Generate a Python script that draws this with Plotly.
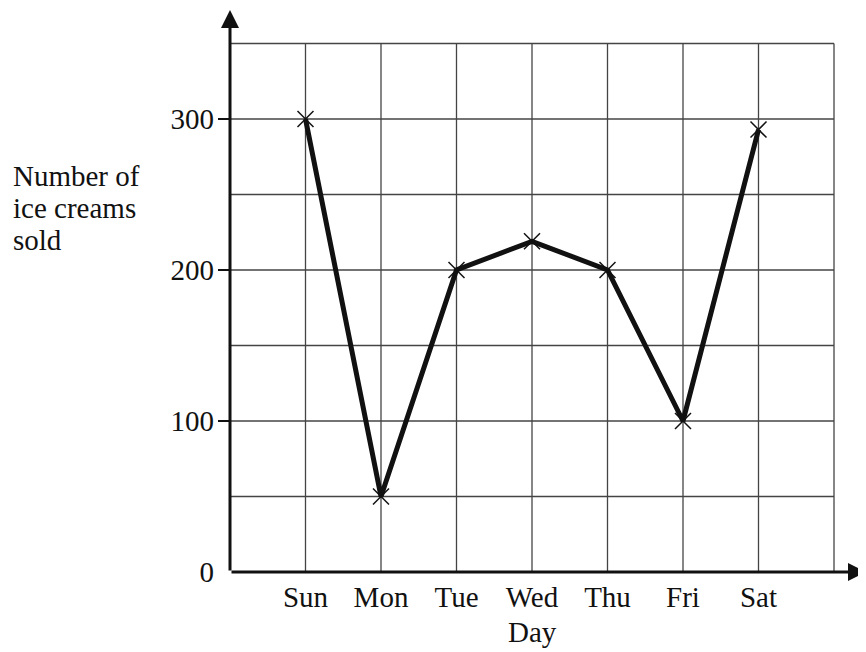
import plotly.graph_objects as go

days = ["Sun", "Mon", "Tue", "Wed", "Thu", "Fri", "Sat"]
day_pos = [1, 2, 3, 4, 5, 6, 7]
sold = [300, 50, 200, 219, 200, 100, 293]
y_ticks = [0, 100, 200, 300]
grid_y = [0, 50, 100, 150, 200, 250, 300, 350]
grid_x = [1, 2, 3, 4, 5, 6, 7, 8]
y_title_lines = ["Number of", "ice creams", "sold"]

FONT = "Liberation Serif, Times New Roman, serif"
FS = 29
# page body has an 8px margin: the plot area spans 230..866 x 10..572 on screen
L, T = 230, 10
W, H = 636, 562
XMAX = W / 75.5
YMAX = H / 1.51

fig = go.Figure()
fig.add_trace(go.Scatter(
    x=day_pos, y=sold, mode="lines+markers",
    line=dict(color="#111", width=5),
    marker=dict(symbol="x-thin-open", size=16, line=dict(color="#111", width=1.5)),
    showlegend=False, cliponaxis=False,
))

shapes = []
for gy in grid_y[1:]:
    shapes.append(dict(type="line", xref="x", yref="y", x0=0, x1=8, y0=gy, y1=gy,
                       line=dict(color="#444", width=1.3), layer="below"))
for gx in grid_x:
    shapes.append(dict(type="line", xref="x", yref="y", x0=gx, x1=gx, y0=0, y1=350,
                       line=dict(color="#444", width=1.3), layer="below"))
for t in y_ticks[1:]:
    shapes.append(dict(type="line", xref="paper", yref="y",
                       x0=-12 / W, x1=0, y0=t, y1=t, line=dict(color="#111", width=2)))
fig.update_layout(shapes=shapes)

annotations = [
    dict(x=XMAX, y=0, ax=0, ay=0, xref="x", yref="y", axref="x", ayref="y",
         showarrow=True, arrowhead=2, arrowsize=1.2, arrowwidth=3, arrowcolor="#111",
         text="", standoff=0),
    dict(x=0, y=YMAX, ax=0, ay=0, xref="x", yref="y", axref="x", ayref="y",
         showarrow=True, arrowhead=2, arrowsize=1.2, arrowwidth=3, arrowcolor="#111",
         text="", standoff=0),
    dict(x=4, y=(572 - 632) / H, xref="x", yref="paper", text="Day", showarrow=False,
         font=dict(family=FONT, size=FS, color="#111"), xanchor="center", yanchor="middle"),
]
for i, line in enumerate(y_title_lines):
    cy = 176 + 32 * i
    annotations.append(dict(
        x=(11 - L) / W, y=(572 - cy) / H, xref="paper", yref="paper",
        text=line, showarrow=False, align="left",
        font=dict(family=FONT, size=FS, color="#111"), xanchor="left", yanchor="middle"))
fig.update_layout(annotations=annotations)

fig.update_layout(
    width=858, height=644,
    margin=dict(l=L - 8, r=0, t=T - 8, b=644 - (T - 8) - H),
    paper_bgcolor="white", plot_bgcolor="white",
    font=dict(family=FONT, size=FS, color="#111"),
    xaxis=dict(range=[0, XMAX], tickvals=day_pos, ticktext=days, showgrid=False,
               zeroline=False, showline=False, ticks="", ticklabelstandoff=5),
    yaxis=dict(range=[0, YMAX], tickvals=y_ticks, showgrid=False, zeroline=False,
               showline=False, ticks="", ticklabelstandoff=15),
)

fig.write_html("out.html")
